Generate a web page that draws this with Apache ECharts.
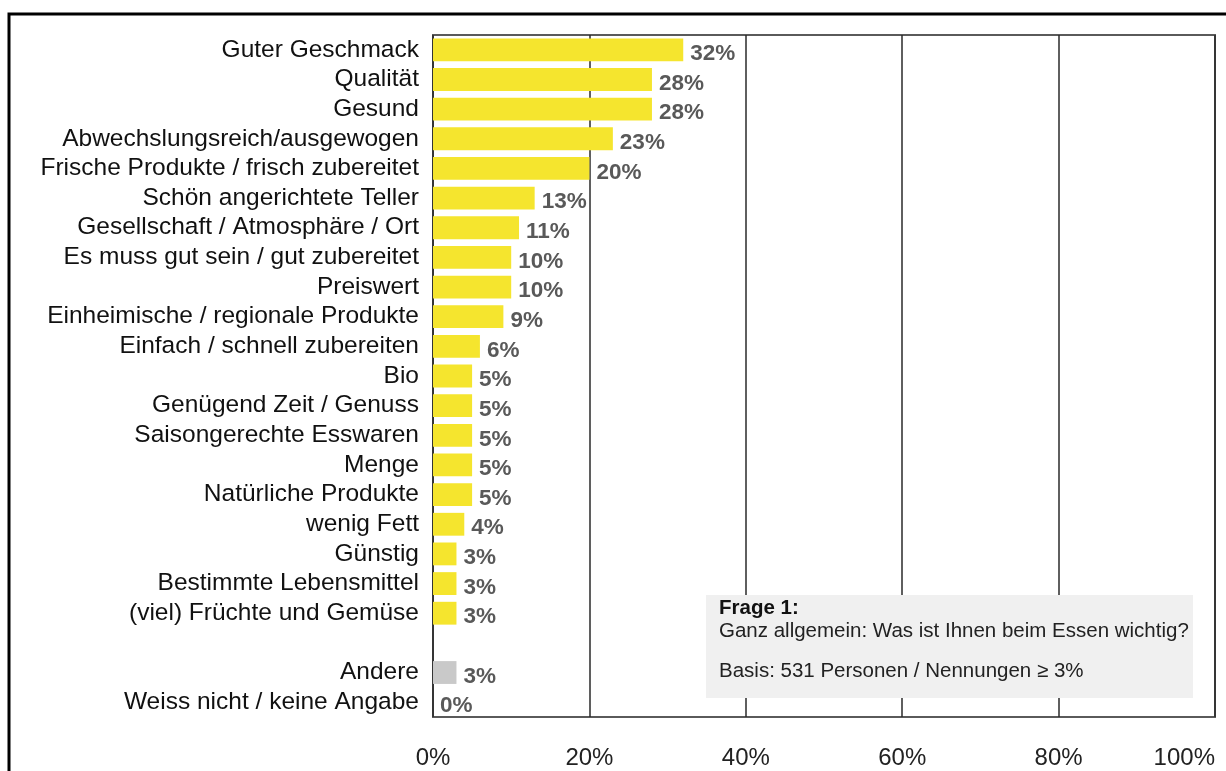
<!DOCTYPE html>
<html>
<head>
<meta charset="utf-8">
<script src="https://cdn.jsdelivr.net/npm/echarts@6/dist/echarts.min.js"></script>
<style>
  html, body { margin: 0; padding: 0; background: #fff; }
  #chart { width: 1226px; height: 771px; }
</style>
</head>
<body>
<div id="chart"></div>
<script>
const categories = [
  'Guter Geschmack', 'Qualität', 'Gesund', 'Abwechslungsreich/ausgewogen',
  'Frische Produkte / frisch zubereitet', 'Schön angerichtete Teller',
  'Gesellschaft / Atmosphäre / Ort', 'Es muss gut sein / gut zubereitet',
  'Preiswert', 'Einheimische / regionale Produkte', 'Einfach / schnell zubereiten',
  'Bio', 'Genügend Zeit / Genuss', 'Saisongerechte Esswaren', 'Menge',
  'Natürliche Produkte', 'wenig Fett', 'Günstig', 'Bestimmte Lebensmittel',
  '(viel) Früchte und Gemüse', '', 'Andere', 'Weiss nicht / keine Angabe'
];
const values = [32, 28, 28, 23, 20, 13, 11, 10, 10, 9, 6, 5, 5, 5, 5, 5, 4, 3, 3, 3, null, 3, 0];
const xTicks = [0, 20, 40, 60, 80, 100];
const noteTitle = 'Frage 1:';
const noteQuestion = 'Ganz allgemein: Was ist Ihnen beim Essen wichtig?';
const noteBasis = 'Basis: 531 Personen / Nennungen ≥ 3%';

const chart = echarts.init(document.getElementById('chart'));
const FONT = 'Liberation Sans, Arial, sans-serif';

const barData = values.map((v, i) => ({
  value: v,
  itemStyle: { color: categories[i] === 'Andere' ? '#c9c9c9' : '#f5e52e' }
}));

const option = {
  animation: false,
  grid: {
    left: 433,
    right: 11,
    top: 35,
    bottom: 54,
    outerBoundsMode: 'none',
    containLabel: false,
    show: true,
    borderColor: '#5a5a5a',
    borderWidth: 2,
    backgroundColor: 'transparent'
  },
  xAxis: {
    type: 'value',
    min: xTicks[0],
    max: xTicks[xTicks.length - 1],
    interval: 20,
    axisLine: { show: false },
    axisTick: { show: false },
    splitLine: { show: true, lineStyle: { color: '#2a2a2a', width: 1.5 } },
    axisLabel: {
      formatter: '{value}%',
      fontFamily: FONT,
      fontSize: 24,
      color: '#222',
      margin: 29,
      alignMaxLabel: 'right'
    }
  },
  yAxis: {
    type: 'category',
    inverse: true,
    data: categories,
    axisLine: { show: false },
    axisTick: { show: false },
    axisLabel: {
      fontFamily: FONT,
      fontSize: 24.5,
      color: '#111',
      margin: 14,
      interval: 0
    }
  },
  series: [{
    type: 'bar',
    data: barData,
    barCategoryGap: '23%',
    label: {
      show: true,
      position: 'right',
      distance: 7,
      offset: [0, 4],
      fontFamily: FONT,
      fontWeight: 'bold',
      fontSize: 22.5,
      color: '#595959',
      formatter: p => (p.value == null ? '' : p.value + '%')
    }
  }],
  graphic: [
    {
      type: 'rect',
      shape: { x: 9, y: 14, width: 1240, height: 800 },
      style: { fill: 'none', stroke: '#000', lineWidth: 3 },
      silent: true
    },
    {
      type: 'rect',
      shape: { x: 706, y: 595, width: 487, height: 103 },
      style: { fill: '#f0f0f0' },
      z: 10
    },
    {
      type: 'text',
      left: 719, top: 598,
      style: { text: noteTitle, font: 'bold 20.5px ' + FONT, fill: '#111' },
      z: 11
    },
    {
      type: 'text',
      left: 719, top: 621,
      style: { text: noteQuestion, font: '20.5px ' + FONT, fill: '#222' },
      z: 11
    },
    {
      type: 'text',
      left: 719, top: 661,
      style: { text: noteBasis, font: '20.5px ' + FONT, fill: '#222' },
      z: 11
    }
  ]
};

chart.setOption(option);
</script>
</body>
</html>
